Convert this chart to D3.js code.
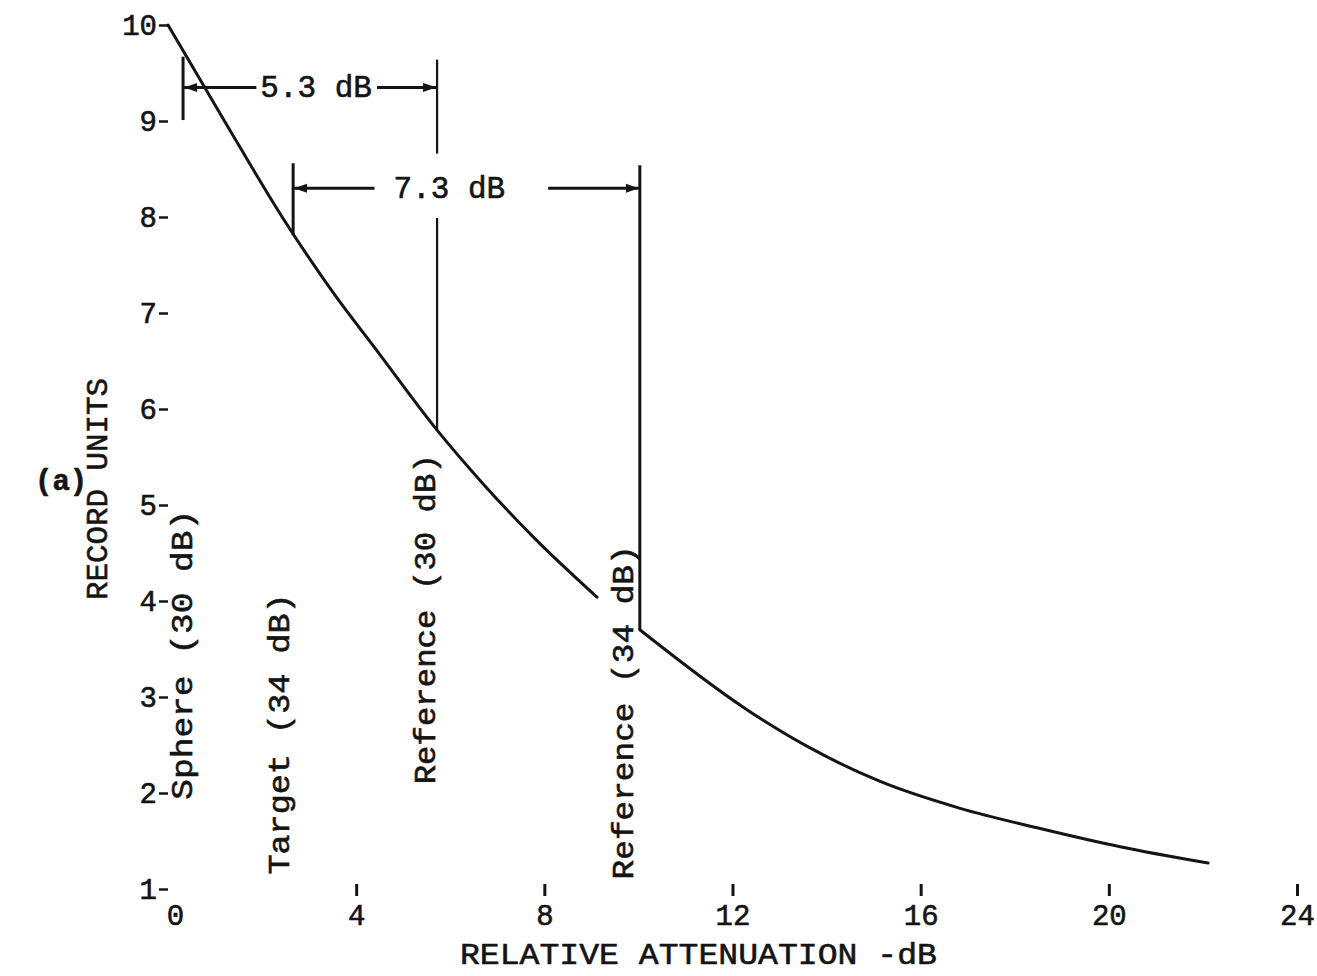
<!DOCTYPE html>
<html><head><meta charset="utf-8">
<script src="https://cdn.jsdelivr.net/npm/d3@7"></script>
<style>
html,body{margin:0;padding:0;background:#fff;}
svg{display:block;}
text{font-family:"Liberation Mono","DejaVu Sans Mono",monospace;fill:#141414;stroke:#141414;stroke-width:0.6px;}
</style></head><body>
<svg id="c" width="1317" height="976"></svg>
<script>
// ---- data ----
const xTicks = [0, 4, 8, 12, 16, 20, 24];
const yTicks = [1, 2, 3, 4, 5, 6, 7, 8, 9, 10];
// record units vs relative attenuation (dB), before and after the reference switch
const curveBefore = [[0,10],[1.2,9.0],[2.44,7.99],[3.5,7.22],[4.5,6.57],[5.72,5.78],[6.7,5.22],[7.8,4.65],[9.12,4.04]];
const curveAfter  = [[10.03,3.70],[12.33,2.86],[13.61,2.48],[15.14,2.12],[16.84,1.84],[18.54,1.63],[20.24,1.44],[22.11,1.27]];
// vertical reference lines (dB position, from, to, optional gap)
const refLines = [
  {x:5.72, y0:9.64, y1:5.78, gap:[8.66,7.99]},
  {x:10.03, y0:8.54, y1:3.70}
];
// short end bars of the dimension arrows
const endBars = [
  {x:0.32, y0:9.67, y1:9.01},
  {x:2.66, y0:8.56, y1:7.81}
];
// dimension arrows
const dims = [
  {label:"5.3 dB", x0:0.32, x1:5.72, y:9.35, cx:3.15, gapL:4, gapR:5},
  {label:"7.3 dB", x0:2.66, x1:10.03, y:8.30, cx:5.98, gapL:19, gapR:43}
];
// rotated labels: baseline dB, start (bottom) value, end (top) value
const vLabels = [
  {text:"Sphere (30 dB)",    x:0.50, y0:1.93, y1:4.95},
  {text:"Target (34 dB)",    x:2.57, y0:1.15, y1:4.08},
  {text:"Reference (30 dB)", x:5.67, y0:2.09, y1:5.53},
  {text:"Reference (34 dB)", x:9.88, y0:1.10, y1:4.58}
];

// ---- chart ----
const svg = d3.select("#c");
const x = d3.scaleLinear().domain([0, 24]).range([168, 1297]);
const y = d3.scaleLinear().domain([1, 10]).range([889, 25]);
const ink = "#141414";

svg.append("defs").append("marker")
  .attr("id","ah").attr("viewBox","0 0 13 11").attr("refX",13).attr("refY",5.5)
  .attr("markerWidth",13).attr("markerHeight",11).attr("markerUnits","userSpaceOnUse")
  .attr("orient","auto")
  .append("path").attr("d","M0,1 L13,5.5 L0,10 Z").attr("fill",ink);

// y axis
const ya = svg.append("g").attr("transform","translate(168,0)")
  .call(d3.axisLeft(y).tickValues(yTicks).tickSize(9).tickPadding(2).tickFormat(d3.format("d")));
ya.select(".domain").remove();
ya.selectAll(".tick line").attr("stroke",ink).attr("stroke-width",2.5);
ya.selectAll(".tick text").attr("font-size",29).attr("fill",ink)
  .style("font-family",'"Liberation Mono",monospace');

// x axis
const xa = svg.append("g").attr("transform","translate(0,884)")
  .call(d3.axisBottom(x).tickValues(xTicks).tickSize(12).tickPadding(8).tickFormat(d3.format("d")));
xa.select(".domain").remove();
xa.selectAll(".tick line").attr("stroke",ink).attr("stroke-width",3)
  .attr("opacity", d => d === 0 ? 0 : 1);
xa.selectAll(".tick text").attr("font-size",29).attr("fill",ink)
  .attr("dx", d => d === 0 ? 7 : 0)
  .style("font-family",'"Liberation Mono",monospace');

// curve
const line = d3.line().x(d => x(d[0])).y(d => y(d[1])).curve(d3.curveMonotoneX);
[curveBefore, curveAfter].forEach(c => {
  svg.append("path").attr("d", line(c)).attr("fill","none")
    .attr("stroke",ink).attr("stroke-width",3).attr("stroke-linecap","round");
});

// reference lines
refLines.forEach(r => {
  const segs = r.gap ? [[r.y0, r.gap[0]], [r.gap[1], r.y1]] : [[r.y0, r.y1]];
  segs.forEach(s => {
    svg.append("line").attr("x1",x(r.x)).attr("x2",x(r.x))
      .attr("y1",y(s[0])).attr("y2",y(s[1]))
      .attr("stroke",ink).attr("stroke-width",r.gap ? 2.2 : 3);
  });
});
endBars.forEach(b => {
  svg.append("line").attr("x1",x(b.x)).attr("x2",x(b.x))
    .attr("y1",y(b.y0)).attr("y2",y(b.y1)).attr("stroke",ink).attr("stroke-width",3);
});

// dimension arrows
dims.forEach(d => {
  const t = svg.append("text").attr("x", x(d.cx)).attr("y", y(d.y) + 10)
    .attr("text-anchor","middle").attr("font-size",31).text(d.label);
  const bb = t.node().getBBox();
  svg.append("line").attr("x1", bb.x - d.gapL).attr("x2", x(d.x0) + 1)
    .attr("y1", y(d.y)).attr("y2", y(d.y)).attr("stroke",ink).attr("stroke-width",3)
    .attr("marker-end","url(#ah)");
  svg.append("line").attr("x1", bb.x + bb.width + d.gapR).attr("x2", x(d.x1) - 1)
    .attr("y1", y(d.y)).attr("y2", y(d.y)).attr("stroke",ink).attr("stroke-width",3)
    .attr("marker-end","url(#ah)");
});

// rotated labels
vLabels.forEach(l => {
  svg.append("text")
    .attr("transform", `translate(${x(l.x)},${y(l.y0)}) rotate(-90)`)
    .attr("font-size",30).attr("textLength", y(l.y0) - y(l.y1)).attr("lengthAdjust","spacingAndGlyphs")
    .text(l.text);
});

// axis titles
svg.append("text").attr("transform","translate(107,600) rotate(-90)")
  .attr("font-size",30).attr("textLength",222).attr("lengthAdjust","spacingAndGlyphs")
  .text("RECORD UNITS");
svg.append("text").attr("x",460).attr("y",964)
  .attr("font-size",30).attr("textLength",477).attr("lengthAdjust","spacingAndGlyphs")
  .text("RELATIVE ATTENUATION -dB");
svg.append("text").attr("x",35).attr("y",490).attr("font-size",29).attr("font-weight","bold")
  .text("(a)");
</script>
</body></html>
